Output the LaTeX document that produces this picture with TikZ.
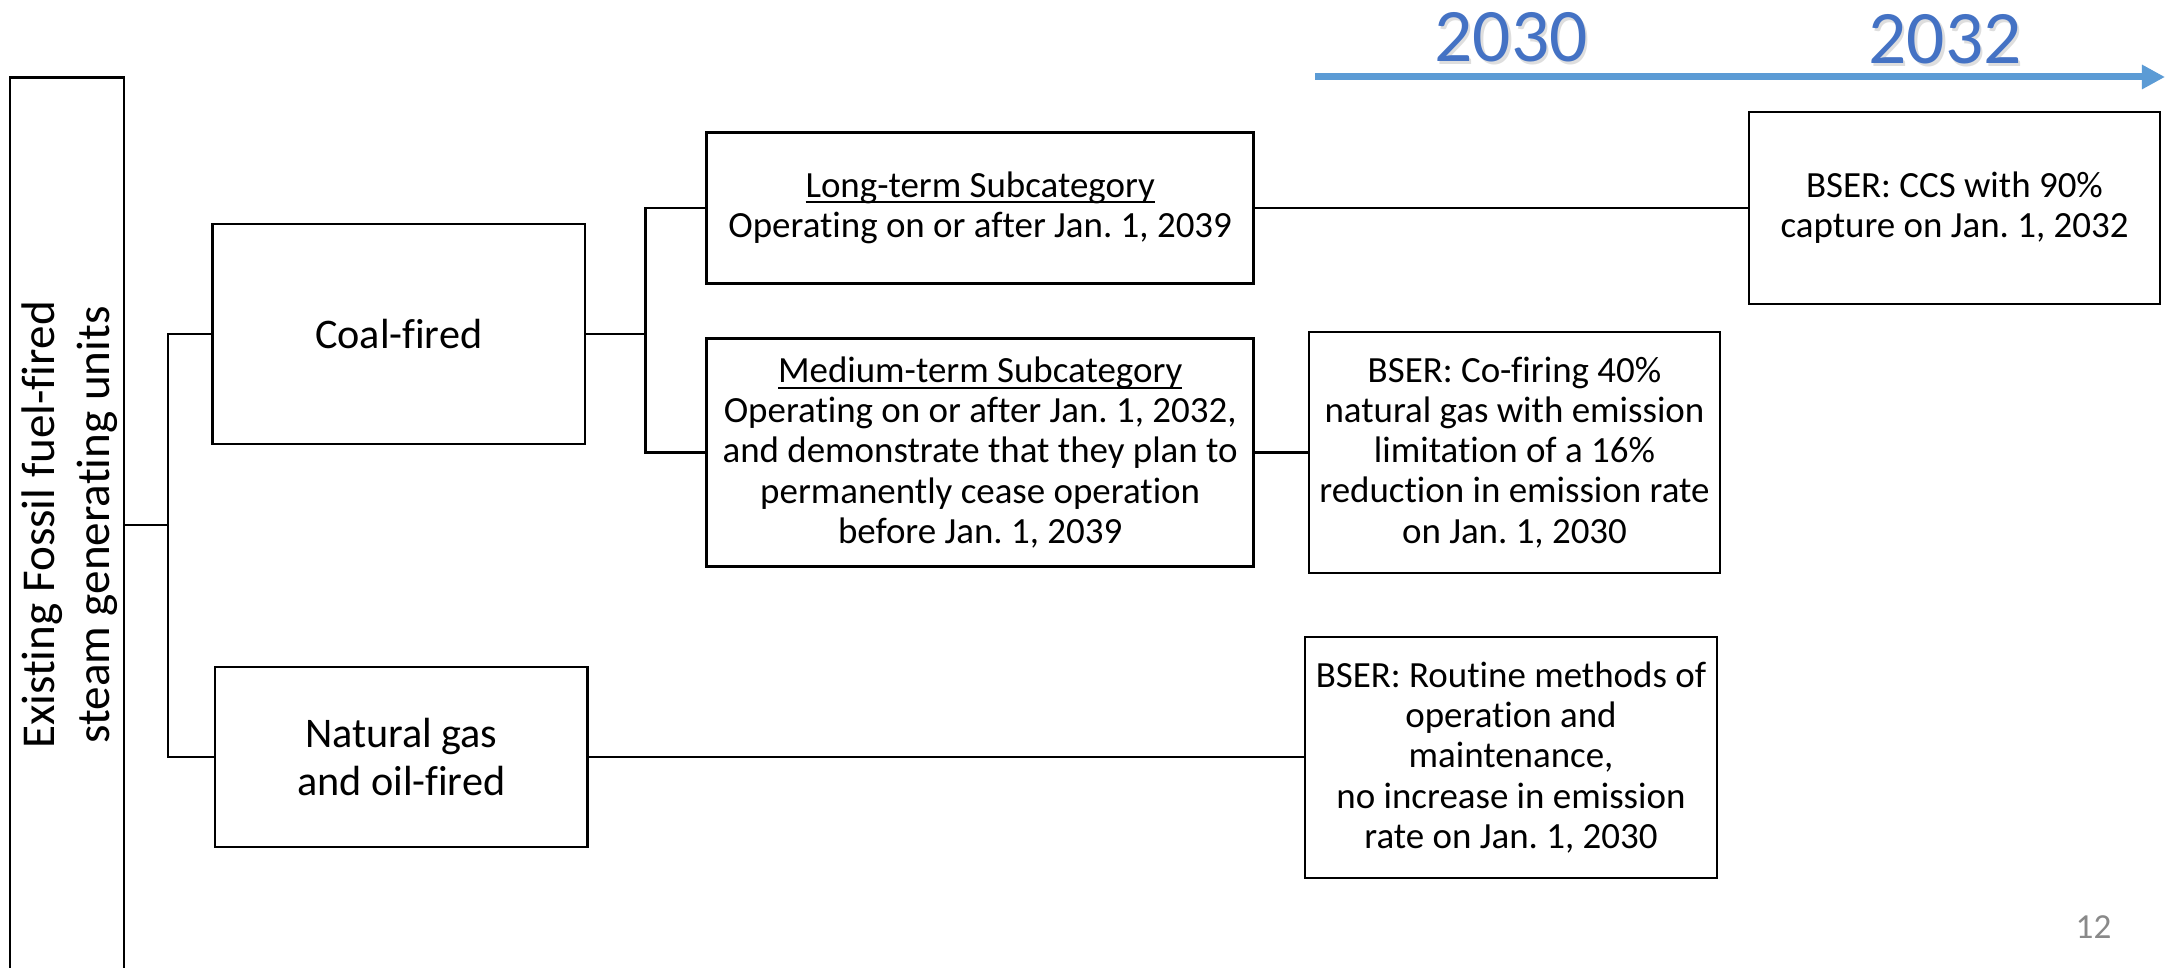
\documentclass[tikz,border=0pt]{standalone}
\usepackage{fontspec}
\setmainfont{Carlito}[Ligatures=NoCommon]
\usetikzlibrary{arrows.meta}
\definecolor{yearblue}{HTML}{4472C4}
\definecolor{arrowblue}{HTML}{5B9BD5}
\definecolor{pagegray}{HTML}{898989}
\newcommand\ulx[1]{\sbox0{#1}\rlap{\rule[-0.16em]{\wd0}{0.055em}}\usebox0}
\frenchspacing
\begin{document}
\begin{tikzpicture}[x=0.01cm,y=-0.01cm,
  box/.style={draw=black, line width=0.75pt, inner sep=0pt, align=center, font=\fontsize{10.5}{11.4}\selectfont},
  bigbox/.style={box, font=\fontsize{12}{13.4}\selectfont},
  conn/.style={draw=black, line width=0.65pt},
  year/.style={text=yearblue, font=\fontsize{21.5}{25}\selectfont, inner sep=0pt},
  yearshadow/.style={text=black!13, font=\fontsize{21.5}{25}\selectfont, inner sep=0pt},
]
\useasboundingbox (0,0) rectangle (2177,968);
\clip (0,0) rectangle (2177,968);

% timeline
\node[yearshadow] (s2030) at (1513.5,40) {2030};
\node[year] (y2030) at (1511,37.5) {2030};
\node[yearshadow] (s2032) at (1947.5,42) {2032};
\node[year] (y2032) at (1945,39.5) {2032};
\coordinate (a0) at (1315,77);
\coordinate (a1) at (2165,77);
\draw[arrowblue, line width=0.07cm, -{Triangle[length=0.23cm, width=0.23cm]}] (a0) -- (a1);

% main vertical box
\node[draw=black, line width=0.75pt, minimum width=1.14cm, minimum height=9.3cm, inner sep=0pt] (main) at (67,542.5) {};
\node[rotate=90, align=center, inner sep=0pt, font=\fontsize{13.4}{15.6}\selectfont] (maintext) at (69.5,525) {Existing Fossil fuel-fired\\steam generating units};

% level 1
\node[bigbox, minimum width=3.725cm, minimum height=2.2cm] (coal) at (398.75,334) {Coal-fired};
\node[bigbox, minimum width=3.725cm, minimum height=1.8cm] (gas) at (401.25,757) {Natural gas\\and oil-fired};

% level 2
\node[box, minimum width=5.469cm, minimum height=1.506cm] (long) at (980.15,208) {\ulx{Long-term Subcategory}\\Operating on or after Jan. 1, 2039};
\node[box, minimum width=5.469cm, minimum height=2.284cm] (med) at (980.15,452.5) {\ulx{Medium-term Subcategory}\\Operating on or after Jan. 1, 2032,\\and demonstrate that they plan to\\permanently cease operation\\before Jan. 1, 2039};

% BSER boxes
\node[box, minimum width=4.11cm, minimum height=1.92cm] (ccs) at (1954.5,208) {BSER: CCS with 90\%\\capture on Jan. 1, 2032};
\node[box, minimum width=4.11cm, minimum height=2.41cm] (cofire) at (1514.5,452.5) {BSER: Co-firing 40\%\\natural gas with emission\\limitation of a 16\%\\reduction in emission rate\\on Jan. 1, 2030};
\node[box, minimum width=4.12cm, minimum height=2.41cm] (routine) at (1511,757.5) {BSER: Routine methods of\\operation and\\maintenance,\\no increase in emission\\rate on Jan. 1, 2030};

% connectors
\coordinate (j1) at (168,525);
\draw[conn] (main.east |- j1) -- (j1);
\draw[conn] (coal.west) -- (coal.west -| j1) -- (gas.west -| j1) -- (gas.west);
\coordinate (j2) at (645.5,334);
\draw[conn] (coal.east) -- (j2);
\draw[conn] (long.west) -- (long.west -| j2) -- (med.west -| j2) -- (med.west);
\draw[conn] (long.east) -- (ccs.west);
\draw[conn] (med.east) -- (cofire.west);
\draw[conn] (gas.east) -- (gas.east -| routine.west);

% page number
\node[text=pagegray, font=\fontsize{10}{12}\selectfont, inner sep=0pt] (pg) at (2093.5,927) {12};
\end{tikzpicture}
\end{document}
